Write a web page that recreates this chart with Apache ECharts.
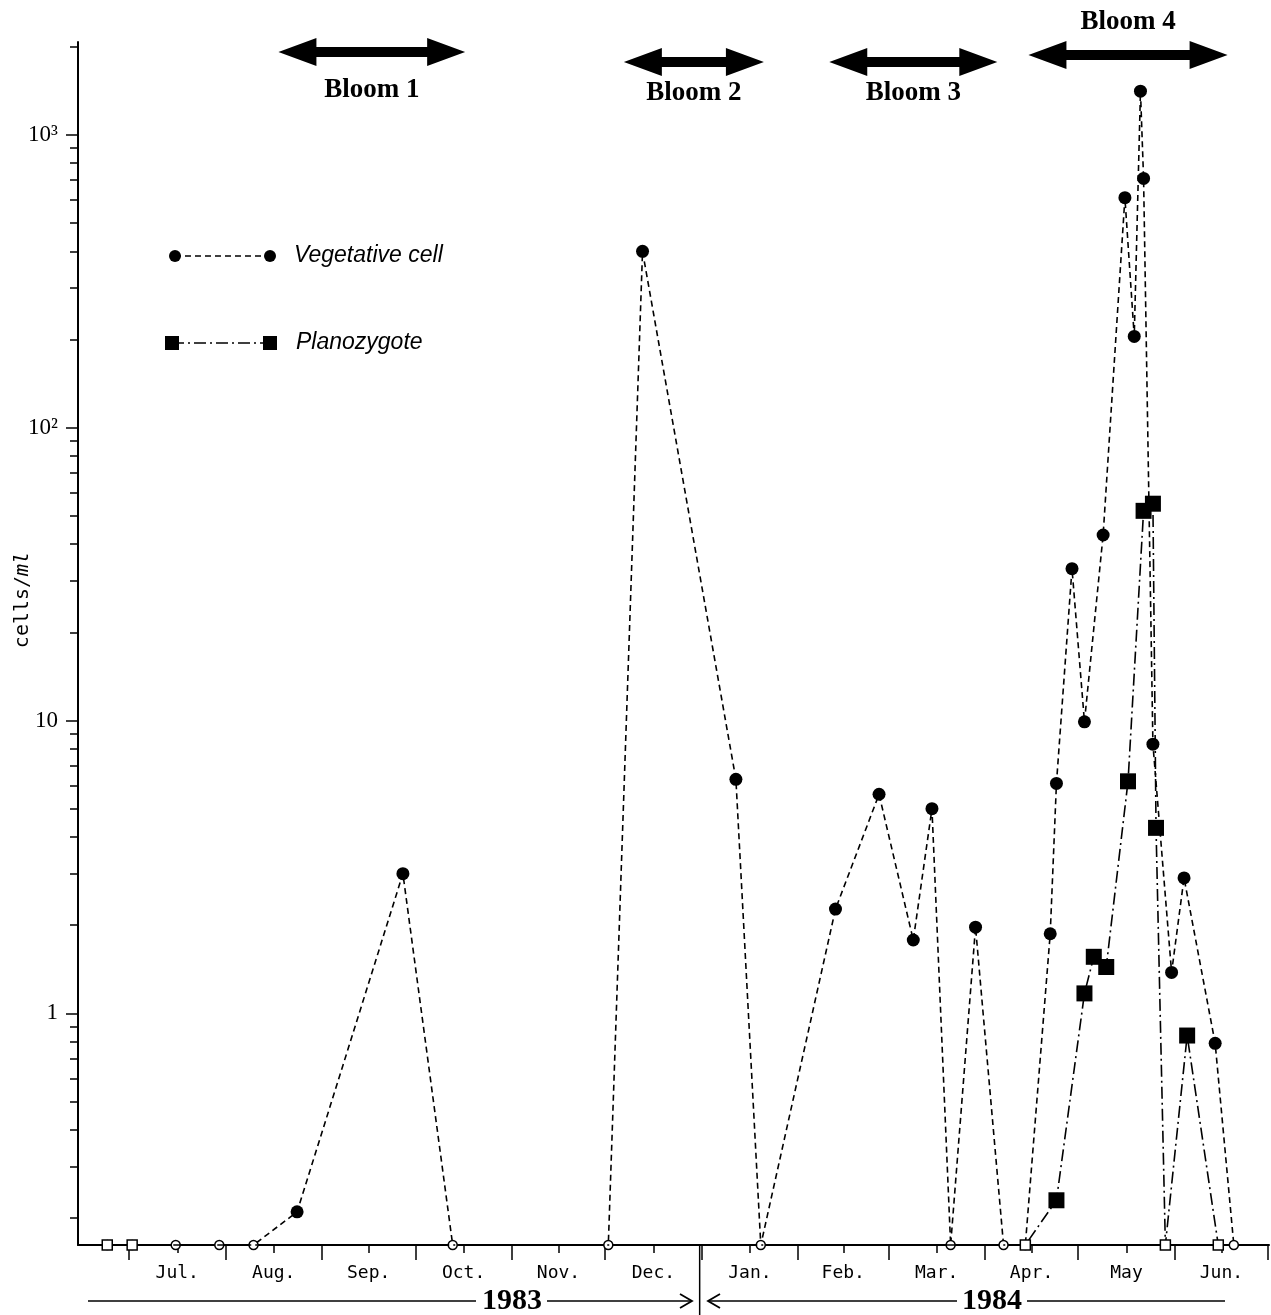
<!DOCTYPE html>
<html><head><meta charset="utf-8">
<script src="https://cdn.jsdelivr.net/npm/echarts@6/dist/echarts.min.js"></script>
<style>html,body{margin:0;padding:0;background:#fff}#c{width:1271px;height:1315px}</style>
</head><body><div id="c"></div>
<script>
// ---------------- DATA ----------------
const vegDates = ['1983-06-24','1983-07-02','1983-07-16','1983-07-30','1983-08-10','1983-08-24','1983-09-27','1983-10-13',
  '1983-12-02','1983-12-13','1984-01-12','1984-01-20','1984-02-13','1984-02-27','1984-03-09','1984-03-15','1984-03-21',
  '1984-03-29','1984-04-07','1984-04-14','1984-04-22','1984-04-24','1984-04-29','1984-05-03','1984-05-09','1984-05-16',
  '1984-05-19','1984-05-21','1984-05-22','1984-05-25','1984-05-31','1984-06-04','1984-06-14','1984-06-20'];
const vegValues = [0,0,0,0,0,0.21,3.0,0,
  0,400,6.3,0,2.27,5.6,1.78,5.0,0,
  1.97,0,0,1.87,6.1,33,9.9,43,610,
  205,1410,710,8.3,1.38,2.9,0.79,0];   // 0 = not detected

const zygDates = ['1983-06-24','1983-07-02','1984-04-14','1984-04-24','1984-05-03','1984-05-06','1984-05-10',
  '1984-05-17','1984-05-22','1984-05-25','1984-05-26','1984-05-29','1984-06-05','1984-06-15'];
const zygValues = [0,0,0,0.23,1.17,1.56,1.44,6.2,52,55,4.3,0,0.84,0];

const seriesNames = ['Vegetative cell','Planozygote'];
const monthNames = ['Jul.','Aug.','Sep.','Oct.','Nov.','Dec.','Jan.','Feb.','Mar.','Apr.','May','Jun.'];
const monthStarts = ['1983-07-01','1983-08-01','1983-09-01','1983-10-01','1983-11-01','1983-12-01','1984-01-01',
  '1984-02-01','1984-03-01','1984-04-01','1984-05-01','1984-06-01','1984-07-01'];
const yMajorTicks = [1,10,100,1000];
const yMinorTicks = [0.2,0.3,0.4,0.5,0.6,0.7,0.8,0.9,2,3,4,5,6,7,8,9,20,30,40,50,60,70,80,90,200,300,400,500,600,700,800,900,2000];
const bloomNames = ['Bloom 1','Bloom 2','Bloom 3','Bloom 4'];
const bloomStart = ['1983-08-18','1983-12-07','1984-02-11','1984-04-15'];
const bloomEnd   = ['1983-10-17','1984-01-21','1984-04-05','1984-06-18'];
const yearLabels = ['1983','1984'];

// ---------------- LAYOUT / STYLE ----------------
const BLOOM_ARROW_Y = [52,62,62,55];
const BLOOM_LABEL_Y = [90,93,93,22];
const ORIGIN = Date.UTC(1983,6,1);
function dayOf(s){const p=s.split('-').map(Number);return (Date.UTC(p[0],p[1]-1,p[2])-ORIGIN)/86400000;}
const Y_MIN = Math.pow(10,-0.791), Y_MAX = Math.pow(10,3.317);
const X_MIN = -16.4, X_MAX = 366.3;

const startDays = monthStarts.map(dayOf);
const midDays = startDays.slice(0,-1).map((d,i)=>(d+startDays[i+1])/2);

function build(dates, values, openSize){
  return dates.map((d,i)=>{
    const v = values[i];
    if (v > 0) return {value:[dayOf(d), v]};
    return {value:[dayOf(d), Y_MIN], symbolSize: openSize,
      itemStyle:{color:'#fff', borderColor:'#000', borderWidth:1.5}};
  });
}
const SUP = {2:'\u00B2',3:'\u00B3'};

const chart = echarts.init(document.getElementById('c'), null, {renderer:'canvas'});
const tickLine = {color:'#000', width:1.5};
chart.setOption({
  animation:false,
  backgroundColor:'#fff',
  grid:{left:78, right:2, top:42, bottom:70, containLabel:false},
  xAxis:[{
    type:'value', min:X_MIN, max:X_MAX, position:'bottom',
    axisLine:{onZero:false, lineStyle:{color:'#000', width:2}},
    axisTick:{customValues:startDays, length:15, lineStyle:tickLine},
    axisLabel:{show:false}, splitLine:{show:false}
  },{
    type:'value', min:X_MIN, max:X_MAX, position:'bottom',
    axisLine:{show:false, onZero:false},
    axisTick:{show:true, customValues:midDays, length:8, lineStyle:tickLine},
    axisLabel:{customValues:midDays, margin:19, color:'#000', fontFamily:'DejaVu Sans Mono', fontSize:18,
      formatter:(v)=>{let b=0,bd=1e9;midDays.forEach((m,i)=>{const dd=Math.abs(m-v);if(dd<bd){bd=dd;b=i;}});return monthNames[b];}},
    splitLine:{show:false}
  }],
  yAxis:[{
    type:'log', logBase:10, min:Y_MIN, max:Y_MAX, position:'left',
    axisLine:{show:true, onZero:false, lineStyle:{color:'#000', width:2}},
    axisTick:{show:true, customValues:yMajorTicks, length:12, lineStyle:tickLine},
    axisLabel:{customValues:yMajorTicks, margin:20, color:'#000', fontFamily:'Liberation Serif', fontSize:23,
      formatter:(v)=>{const e=Math.round(Math.log10(v)); if(e===0) return '1'; if(e===1) return '10'; return '10'+SUP[e];}},
    splitLine:{show:false}, minorTick:{show:false}
  },{
    type:'log', logBase:10, min:Y_MIN, max:Y_MAX, position:'left',
    axisLine:{show:false, onZero:false},
    axisTick:{show:true, customValues:yMinorTicks, length:8, lineStyle:tickLine},
    axisLabel:{show:false}, splitLine:{show:false}
  }],
  series:[{
    name:seriesNames[0], type:'line', xAxisIndex:0, yAxisIndex:0, clip:false, z:4,
    symbol:'circle', symbolSize:13, itemStyle:{color:'#000'},
    lineStyle:{color:'#000', width:1.6, type:[6,4]},
    data: build(vegDates, vegValues, 9)
  },{
    name:seriesNames[1], type:'line', xAxisIndex:0, yAxisIndex:0, clip:false, z:5,
    symbol:'rect', symbolSize:16, itemStyle:{color:'#000'},
    lineStyle:{color:'#000', width:1.6, type:[12,4,2,4]},
    data: build(zygDates, zygValues, 10)
  },{
    type:'custom', coordinateSystem:'cartesian2d', xAxisIndex:0, yAxisIndex:0, clip:false, silent:true,
    data: bloomNames.map((n,i)=>[dayOf(bloomStart[i]), dayOf(bloomEnd[i]), i]),
    renderItem:(params, api)=>{
      const x1 = api.coord([api.value(0), 1])[0];
      const x2 = api.coord([api.value(1), 1])[0];
      const i = api.value(2);
      const y = BLOOM_ARROW_Y[i];
      const hl=38, hh=14, sh=5;
      const pts=[[x1,y],[x1+hl,y-hh],[x1+hl,y-sh],[x2-hl,y-sh],[x2-hl,y-hh],[x2,y],[x2-hl,y+hh],[x2-hl,y+sh],[x1+hl,y+sh],[x1+hl,y+hh]];
      return {type:'group', children:[
        {type:'polygon', shape:{points:pts}, style:{fill:'#000'}},
        {type:'text', style:{text:bloomNames[i], x:(x1+x2)/2, y:BLOOM_LABEL_Y[i], align:'center', verticalAlign:'middle',
          textAlign:'center', textVerticalAlign:'middle', font:'bold 27px "Liberation Serif"', fill:'#000'}}
      ]};
    }
  }]
});

// decorations: legend and year row
const xJan = chart.convertToPixel({xAxisIndex:0}, dayOf('1984-01-01'));
const yBase = 1245, yRow = 1301;
const serifBold = 'bold 30px "Liberation Serif"';
chart.setOption({graphic:[
  // legend
  {type:'line', shape:{x1:175,y1:256,x2:270,y2:256}, style:{stroke:'#000', lineWidth:1.5, lineDash:[6,4]}},
  {type:'circle', shape:{cx:175,cy:256,r:6}, style:{fill:'#000'}},
  {type:'circle', shape:{cx:270,cy:256,r:6}, style:{fill:'#000'}},
  {type:'text', x:294, y:256, style:{text:seriesNames[0], font:'italic 23px "Liberation Sans"', fill:'#000', verticalAlign:'middle'}},
  {type:'line', shape:{x1:172,y1:343,x2:270,y2:343}, style:{stroke:'#000', lineWidth:1.5, lineDash:[12,4,2,4]}},
  {type:'rect', shape:{x:165,y:336,width:14,height:14}, style:{fill:'#000'}},
  {type:'rect', shape:{x:263,y:336,width:14,height:14}, style:{fill:'#000'}},
  {type:'text', x:296, y:343, style:{text:seriesNames[1], font:'italic 23px "Liberation Sans"', fill:'#000', verticalAlign:'middle'}},
  // y axis name
  {type:'text', x:23, y:600, rotation:Math.PI/2, style:{text:'{a|cells/}{b|ml}', align:'center', verticalAlign:'middle',
    rich:{a:{font:'20px "DejaVu Sans Mono"', fill:'#000'}, b:{font:'italic 20px "DejaVu Sans Mono"', fill:'#000'}}}},
  // year row
  {type:'line', shape:{x1:xJan-2,y1:yBase,x2:xJan-2,y2:1315}, style:{stroke:'#000', lineWidth:1.5}},
  {type:'line', shape:{x1:88,y1:yRow,x2:476,y2:yRow}, style:{stroke:'#000', lineWidth:1.5}},
  {type:'text', x:512, y:yRow, style:{text:yearLabels[0], font:serifBold, fill:'#000', align:'center', verticalAlign:'middle'}},
  {type:'line', shape:{x1:547,y1:yRow,x2:692,y2:yRow}, style:{stroke:'#000', lineWidth:1.5}},
  {type:'polyline', shape:{points:[[680,yRow-7],[692,yRow],[680,yRow+7]]}, style:{stroke:'#000', lineWidth:1.8, fill:null}},
  {type:'polyline', shape:{points:[[720,yRow-7],[708,yRow],[720,yRow+7]]}, style:{stroke:'#000', lineWidth:1.8, fill:null}},
  {type:'line', shape:{x1:708,y1:yRow,x2:957,y2:yRow}, style:{stroke:'#000', lineWidth:1.5}},
  {type:'text', x:992, y:yRow, style:{text:yearLabels[1], font:serifBold, fill:'#000', align:'center', verticalAlign:'middle'}},
  {type:'line', shape:{x1:1027,y1:yRow,x2:1225,y2:yRow}, style:{stroke:'#000', lineWidth:1.5}}
]});
</script></body></html>
